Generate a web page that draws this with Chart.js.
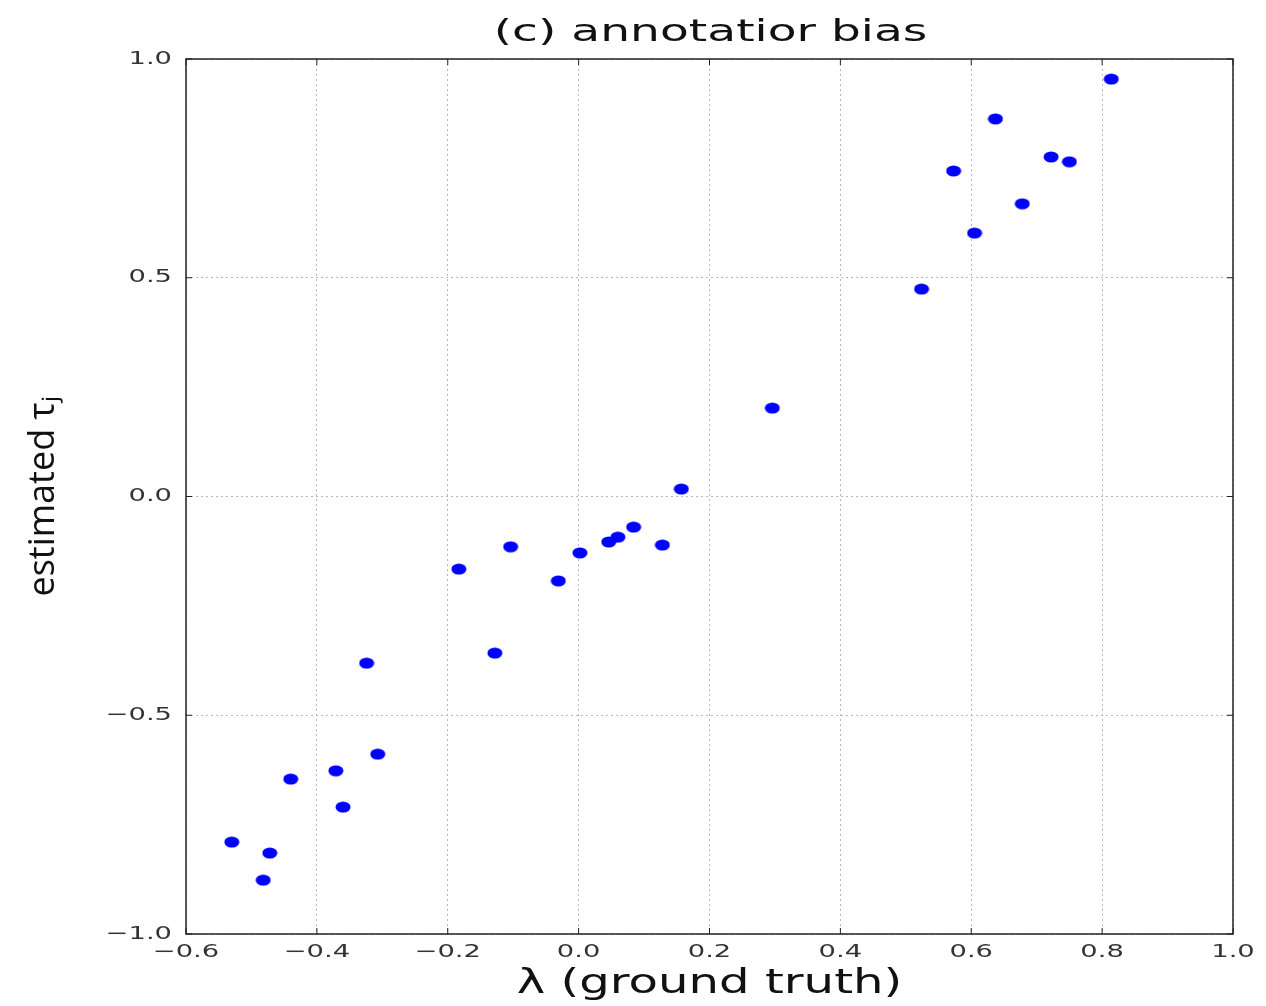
<!DOCTYPE html>
<html>
<head>
<meta charset="utf-8">
<script src="https://cdn.jsdelivr.net/npm/chart.js@4/dist/chart.umd.min.js"></script>
<style>
  html, body { margin: 0; padding: 0; background: #ffffff; }
  #wrap { width: 1266px; height: 1006px; }
</style>
</head>
<body>
<div id="wrap"><canvas id="scatter"></canvas></div>
<script>
// (c) annotator bias — ground truth lambda vs estimated tau_j

const lambdaValues = [
  -0.530, -0.482, -0.472, -0.440, -0.371, -0.360, -0.324, -0.307,
  -0.183, -0.128, -0.104, -0.031, 0.002, 0.046, 0.060, 0.084,
  0.128, 0.157, 0.296, 0.524, 0.573, 0.605, 0.637, 0.678,
  0.722, 0.750, 0.814
];
const tauValues = [
  -0.790, -0.877, -0.815, -0.646, -0.627, -0.710, -0.381, -0.589,
  -0.166, -0.358, -0.115, -0.193, -0.129, -0.104, -0.093, -0.070,
  -0.111, 0.017, 0.202, 0.474, 0.744, 0.602, 0.863, 0.669,
  0.776, 0.765, 0.954
];
const xTicks = [-0.6, -0.4, -0.2, 0.0, 0.2, 0.4, 0.6, 0.8, 1.0];
const yTicks = [-1.0, -0.5, 0.0, 0.5, 1.0];

const TITLE = '(c) annotatior bias';
const X_TITLE = '\u03bb (ground truth)';
const TICK_FONT = { family: "'DejaVu Sans', sans-serif", size: 18 };

// the source figure is stretched sideways; text is drawn with this x scale
const SX = 1.52;

const fmt = v => Number(v).toFixed(1).replace('-', '\u2212');

function wideText(ctx, text, x, y, sx) {
  ctx.save();
  ctx.translate(x, y);
  ctx.scale(sx, 1);
  ctx.fillText(text, 0, 0);
  ctx.restore();
}

// wide blue dot used as the point style
function makeDot() {
  const c = document.createElement('canvas');
  c.width = 16; c.height = 12;
  const g = c.getContext('2d');
  g.fillStyle = '#0000ff';
  g.beginPath();
  g.ellipse(8, 6, 7.5, 5.5, 0, 0, Math.PI * 2);
  g.fill();
  return c;
}

// redraw tick labels from the scale's own label items, stretched about their anchor
function stretchLabels(scale) {
  scale.drawLabels = function (chartArea) {
    const ctx = this.ctx;
    for (const item of this.getLabelItems(chartArea)) {
      const o = item.options;
      ctx.save();
      ctx.font = item.font.string;
      ctx.fillStyle = o.color;
      ctx.textAlign = o.textAlign;
      ctx.textBaseline = o.textBaseline;
      wideText(ctx, item.label, o.translation[0], o.translation[1] + item.textOffset, SX);
      ctx.restore();
    }
  };
  scale._wide = true;
}

const wideTicks = {
  id: 'wideTicks',
  afterUpdate(chart) {
    for (const s of Object.values(chart.scales)) if (!s._wide) stretchLabels(s);
  }
};

// full box round the plot, inward tick marks, title and x title
const frameAndTitles = {
  id: 'frameAndTitles',
  afterDraw(chart) {
    const { ctx, chartArea: a, scales: { x, y } } = chart;
    ctx.save();
    ctx.strokeStyle = '#222222';
    ctx.lineWidth = 1.5;
    ctx.strokeRect(a.left, a.top, a.right - a.left, a.bottom - a.top);
    ctx.lineWidth = 1;
    ctx.beginPath();
    for (const v of xTicks) {
      const px = x.getPixelForValue(v);
      ctx.moveTo(px, a.bottom); ctx.lineTo(px, a.bottom - 6);
      ctx.moveTo(px, a.top); ctx.lineTo(px, a.top + 6);
    }
    for (const v of yTicks) {
      const py = y.getPixelForValue(v);
      ctx.moveTo(a.left, py); ctx.lineTo(a.left + 6, py);
      ctx.moveTo(a.right, py); ctx.lineTo(a.right - 6, py);
    }
    ctx.stroke();
    ctx.fillStyle = '#111111';
    ctx.textAlign = 'center';
    ctx.textBaseline = 'middle';
    ctx.font = "31px 'DejaVu Sans', sans-serif";
    wideText(ctx, TITLE, (a.left + a.right) / 2 + 1, 33, SX);
    ctx.font = "33px 'DejaVu Sans', sans-serif";
    wideText(ctx, X_TITLE, (a.left + a.right) / 2, 984, SX * 0.96);
    ctx.restore();
  }
};

const points = lambdaValues.map((x, i) => ({ x, y: tauValues[i] }));

new Chart(document.getElementById('scatter').getContext('2d'), {
  type: 'scatter',
  data: {
    datasets: [{
      data: points,
      pointStyle: makeDot(),
      backgroundColor: '#0000ff',
      borderWidth: 0,
      pointRadius: 7,
      pointHoverRadius: 7
    }]
  },
  plugins: [wideTicks, frameAndTitles],
  options: {
    responsive: true,
    maintainAspectRatio: false,
    animation: false,
    layout: { padding: { left: 0, right: 33, top: 59, bottom: 0 } },
    plugins: {
      legend: { display: false },
      tooltip: { enabled: false },
      title: { display: false }
    },
    scales: {
      x: {
        type: 'linear',
        min: -0.6,
        max: 1.0,
        afterBuildTicks: s => { s.ticks = xTicks.map(v => ({ value: v })); },
        afterFit: s => { s.height = 72; },
        grid: { color: '#b8b8b8', lineWidth: 1, drawTicks: false },
        border: { display: false, dash: [2, 3] },
        ticks: { color: '#333333', font: TICK_FONT, padding: 8, maxRotation: 0, callback: fmt },
        title: { display: false }
      },
      y: {
        type: 'linear',
        min: -1.0,
        max: 1.0,
        afterBuildTicks: s => { s.ticks = yTicks.map(v => ({ value: v })); },
        afterFit: s => { s.width = 186; },
        grid: { color: '#b8b8b8', lineWidth: 1, drawTicks: false },
        border: { display: false, dash: [2, 3] },
        ticks: { color: '#333333', font: TICK_FONT, padding: 14, callback: fmt },
        title: {
          display: true,
          text: 'estimated \u03c4\u2c7c',
          color: '#111111',
          font: { family: "'Open Sans', sans-serif", size: 36 },
          padding: { top: 22, bottom: 0 }
        }
      }
    }
  }
});
</script>
</body>
</html>
